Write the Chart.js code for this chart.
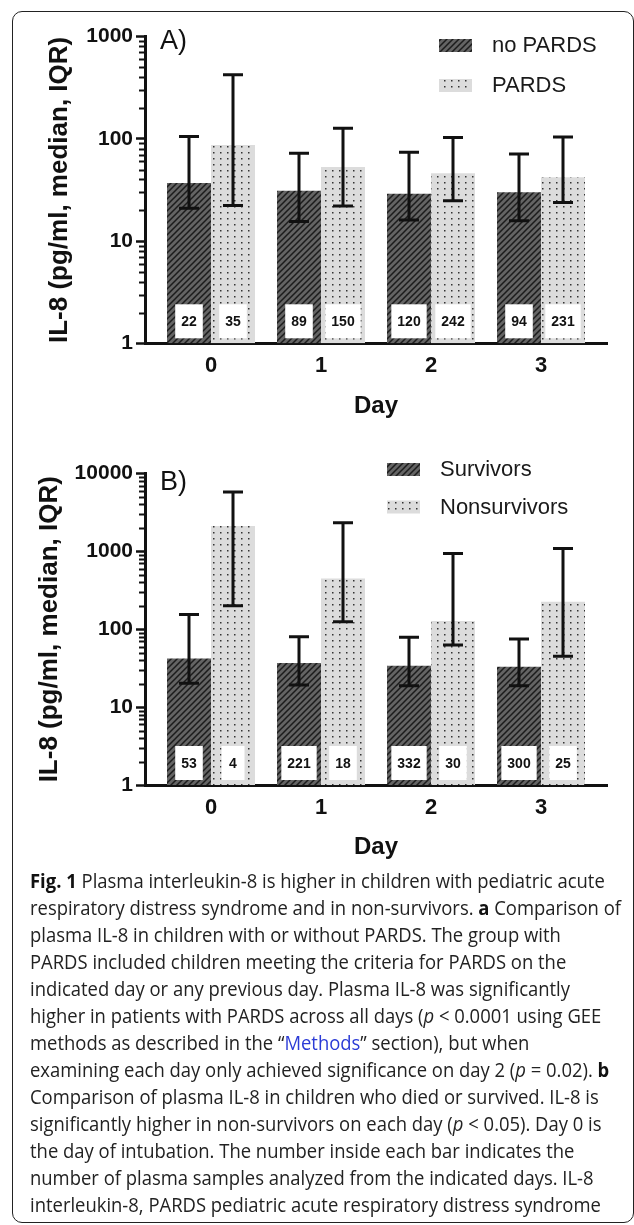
<!DOCTYPE html>
<html>
<head>
<meta charset="utf-8">
<script src="https://cdn.jsdelivr.net/npm/chart.js@4.4.0/dist/chart.umd.min.js"></script>
<style>
html, body { margin: 0; padding: 0; background: #fff; }
body { width: 634px; height: 1225px; position: relative; overflow: hidden; }
#frame { position: absolute; left: 12px; top: 11px; width: 622px; height: 1212px; border: 1.5px solid #222; border-radius: 10px; box-sizing: border-box; }
.panel { position: absolute; left: 0; width: 634px; height: 440px; }
#pa { top: 0; }
#pb { top: 440px; }
#caption { position: absolute; left: 30px; top: 867px; font-family: "Open Sans", sans-serif; font-size: 20px; line-height: 27px; color: #222; white-space: nowrap; transform-origin: 0 0; }
#caption b { font-weight: 700; color: #111; }
#caption a { color: #2b3bd6; text-decoration: none; }
</style>
</head>
<body>
<div id="frame"></div>
<div class="panel" id="pa"><canvas id="chartA" width="634" height="440"></canvas></div>
<div class="panel" id="pb"><canvas id="chartB" width="634" height="440"></canvas></div>
<div id="caption">
<div><b>Fig. 1</b> Plasma interleukin-8 is higher in children with pediatric acute</div>
<div>respiratory distress syndrome and in non-survivors. <b>a</b> Comparison of</div>
<div>plasma IL-8 in children with or without PARDS. The group with</div>
<div>PARDS included children meeting the criteria for PARDS on the</div>
<div>indicated day or any previous day. Plasma IL-8 was significantly</div>
<div>higher in patients with PARDS across all days (<i>p</i> &lt; 0.0001 using GEE</div>
<div>methods as described in the “<a>Methods</a>” section), but when</div>
<div>examining each day only achieved significance on day 2 (<i>p</i> = 0.02). <b>b</b></div>
<div>Comparison of plasma IL-8 in children who died or survived. IL-8 is</div>
<div>significantly higher in non-survivors on each day (<i>p</i> &lt; 0.05). Day 0 is</div>
<div>the day of intubation. The number inside each bar indicates the</div>
<div>number of plasma samples analyzed from the indicated days. IL-8</div>
<div>interleukin-8, PARDS pediatric acute respiratory distress syndrome</div>
</div>
<script>
// days on the x axis
var days = [0, 1, 2, 3];
var dayLabels = ['0', '1', '2', '3'];
var yTicks = [1, 10, 100, 1000, 10000];

// panel A: PARDS vs no PARDS (median, IQR)
var aNames = ['no PARDS', 'PARDS'];
var aNoMedian = [37, 31, 29, 30];
var aNoLow = [20.9, 15.5, 16.1, 15.8];
var aNoHigh = [105, 72, 74, 71];
var aNoCount = [22, 89, 120, 94];
var aYesMedian = [87, 53, 46, 42];
var aYesLow = [22.2, 22, 24.7, 23.8];
var aYesHigh = [422, 127, 103, 104];
var aYesCount = [35, 150, 242, 231];

// panel B: survivors vs nonsurvivors
var bNames = ['Survivors', 'Nonsurvivors'];
var bSurvMedian = [42, 37, 34, 33];
var bSurvLow = [20.2, 19.2, 18.8, 18.8];
var bSurvHigh = [155, 80, 79, 75];
var bSurvCount = [53, 221, 332, 300];
var bDeadMedian = [2110, 450, 128, 225];
var bDeadLow = [200, 125, 63, 45];
var bDeadHigh = [5800, 2330, 940, 1090];
var bDeadCount = [4, 18, 30, 25];

Chart.defaults.font.family = '"Liberation Sans", Arial, sans-serif';
Chart.defaults.color = '#111';

function hatch() {
  var c = document.createElement('canvas');
  c.width = 6; c.height = 6;
  var g = c.getContext('2d');
  g.fillStyle = '#646464';
  g.fillRect(0, 0, 6, 6);
  g.strokeStyle = '#1c1c1c';
  g.lineWidth = 1.5;
  g.beginPath();
  g.moveTo(0, 6); g.lineTo(6, 0);
  g.moveTo(-1, 1); g.lineTo(1, -1);
  g.moveTo(5, 7); g.lineTo(7, 5);
  g.stroke();
  return g.createPattern(c, 'repeat');
}

function dots() {
  var c = document.createElement('canvas');
  c.width = 7; c.height = 6;
  var g = c.getContext('2d');
  g.fillStyle = '#dcdcdc';
  g.fillRect(0, 0, 7, 6);
  g.fillStyle = '#333';
  g.fillRect(3, 2, 1.5, 1.5);
  return g.createPattern(c, 'repeat');
}

function points(vals) {
  return days.map(function (d, i) { return { x: d, y: vals[i] }; });
}

// error bars, sample-size boxes, minor ticks, legend, panel letter
var decor = {
  id: 'decor',
  afterDatasetsDraw: function (chart) {
    var ctx = chart.ctx, y = chart.scales.y, area = chart.chartArea;
    ctx.save();
    chart.data.datasets.forEach(function (ds, i) {
      chart.getDatasetMeta(i).data.forEach(function (bar, j) {
        ctx.font = 'bold 14px "Liberation Sans", Arial, sans-serif';
        var t = String(ds.counts[j]);
        var w = Math.max(ctx.measureText(t).width + 12, 23);
        var bottom = area.bottom - 5, top = bottom - 34;
        ctx.fillStyle = '#fff';
        ctx.fillRect(bar.x - w / 2, top, w, 34);
        ctx.fillStyle = '#111';
        ctx.textAlign = 'center';
        ctx.textBaseline = 'middle';
        ctx.fillText(t, bar.x, (top + bottom) / 2 + 1);

        var hi = y.getPixelForValue(ds.high[j]);
        var lo = y.getPixelForValue(ds.low[j]);
        ctx.strokeStyle = '#111';
        ctx.lineWidth = 3;
        ctx.beginPath();
        ctx.moveTo(bar.x, hi); ctx.lineTo(bar.x, lo);
        ctx.moveTo(bar.x - 10, hi); ctx.lineTo(bar.x + 10, hi);
        ctx.moveTo(bar.x - 10, lo); ctx.lineTo(bar.x + 10, lo);
        ctx.stroke();
      });
    });
    ctx.restore();
  },
  afterDraw: function (chart, args, o) {
    var ctx = chart.ctx, y = chart.scales.y;
    ctx.save();
    // minor log ticks
    ctx.strokeStyle = '#111';
    ctx.lineWidth = 2;
    ctx.beginPath();
    for (var d = 1; d < y.max; d *= 10) {
      for (var k = 2; k <= 9; k++) {
        var py = Math.round(y.getPixelForValue(k * d)) + 0.5;
        ctx.moveTo(y.right - 6, py);
        ctx.lineTo(y.right, py);
      }
    }
    ctx.stroke();

    // legend
    ctx.textAlign = 'left';
    ctx.textBaseline = 'middle';
    ctx.font = '22px "Liberation Sans", Arial, sans-serif';
    chart.data.datasets.forEach(function (ds, i) {
      var top = o.legendY + i * o.legendGap;
      ctx.fillStyle = ds.backgroundColor;
      ctx.fillRect(o.legendX, top, 33, 13);
      ctx.fillStyle = '#1a1a1a';
      ctx.fillText(ds.label, o.legendX + 53, top + 7);
    });

    // panel letter
    ctx.font = '27px "Liberation Sans", Arial, sans-serif';
    ctx.fillStyle = '#111';
    ctx.fillText(o.letter, 160, o.letterY);
    ctx.restore();
  }
};

function makeChart(id, names, sets, yMax, pad, titlePad, deco) {
  return new Chart(document.getElementById(id), {
    type: 'bar',
    data: {
      datasets: [
        { label: names[0], data: points(sets[0].median), low: sets[0].low, high: sets[0].high, counts: sets[0].counts, backgroundColor: hatch(), borderWidth: 0 },
        { label: names[1], data: points(sets[1].median), low: sets[1].low, high: sets[1].high, counts: sets[1].counts, backgroundColor: dots(), borderWidth: 0 }
      ]
    },
    options: {
      responsive: false,
      animation: false,
      events: [],
      layout: { padding: pad },
      datasets: { bar: { categoryPercentage: 0.8, barPercentage: 1.0 } },
      plugins: { legend: { display: false }, tooltip: { enabled: false }, decor: deco },
      scales: {
        x: {
          type: 'linear', min: -0.6, max: 3.6, offset: false, z: 1,
          afterBuildTicks: function (s) { s.ticks = days.map(function (v) { return { value: v }; }); },
          afterFit: function (s) { s.height = 80; },
          grid: { display: false, drawTicks: false, offset: false },
          border: { display: true, color: '#111', width: 3 },
          ticks: {
            font: { size: 22, weight: 'bold' }, color: '#111', padding: 9.5,
            callback: function (v) { return dayLabels[days.indexOf(v)]; }
          },
          title: { display: true, text: 'Day', font: { size: 24, weight: 'bold' }, color: '#111', padding: { top: 0, bottom: 3 } }
        },
        y: {
          type: 'logarithmic', min: 1, max: yMax, z: 1,
          afterBuildTicks: function (s) { s.ticks = yTicks.filter(function (v) { return v <= yMax; }).map(function (v) { return { value: v }; }); },
          afterFit: function (s) { s.width = 145; },
          grid: { display: true, drawOnChartArea: false, drawTicks: true, tickLength: 9, tickWidth: 2.5, tickColor: '#111' },
          border: { display: true, color: '#111', width: 3 },
          ticks: { font: { size: 21, weight: 'bold' }, color: '#111', padding: 3, callback: function (v) { return String(v); } },
          title: { display: true, text: 'IL-8 (pg/ml, median, IQR)', font: { size: 26, weight: 'bold', lineHeight: 1 }, color: '#111', padding: { top: titlePad, bottom: 0 } }
        }
      }
    },
    plugins: [decor]
  });
}

makeChart('chartA', aNames,
  [{ median: aNoMedian, low: aNoLow, high: aNoHigh, counts: aNoCount },
   { median: aYesMedian, low: aYesLow, high: aYesHigh, counts: aYesCount }],
  1000, { left: 0, top: 36.5, right: 27, bottom: 16.7 }, 47,
  { legendX: 439, legendY: 39, legendGap: 40, letter: 'A)', letterY: 42 });

makeChart('chartB', bNames,
  [{ median: bSurvMedian, low: bSurvLow, high: bSurvHigh, counts: bSurvCount },
   { median: bDeadMedian, low: bDeadLow, high: bDeadHigh, counts: bDeadCount }],
  10000, { left: 0, top: 33.5, right: 27, bottom: 15 }, 37,
  { legendX: 387, legendY: 23, legendGap: 37.5, letter: 'B)', letterY: 43 });

// squeeze caption lines to the width of the original text block
var cap = document.getElementById('caption');
var k = 591 / cap.firstElementChild.getBoundingClientRect().width;
cap.style.transform = 'scaleX(' + k + ')';
</script>
</body>
</html>
